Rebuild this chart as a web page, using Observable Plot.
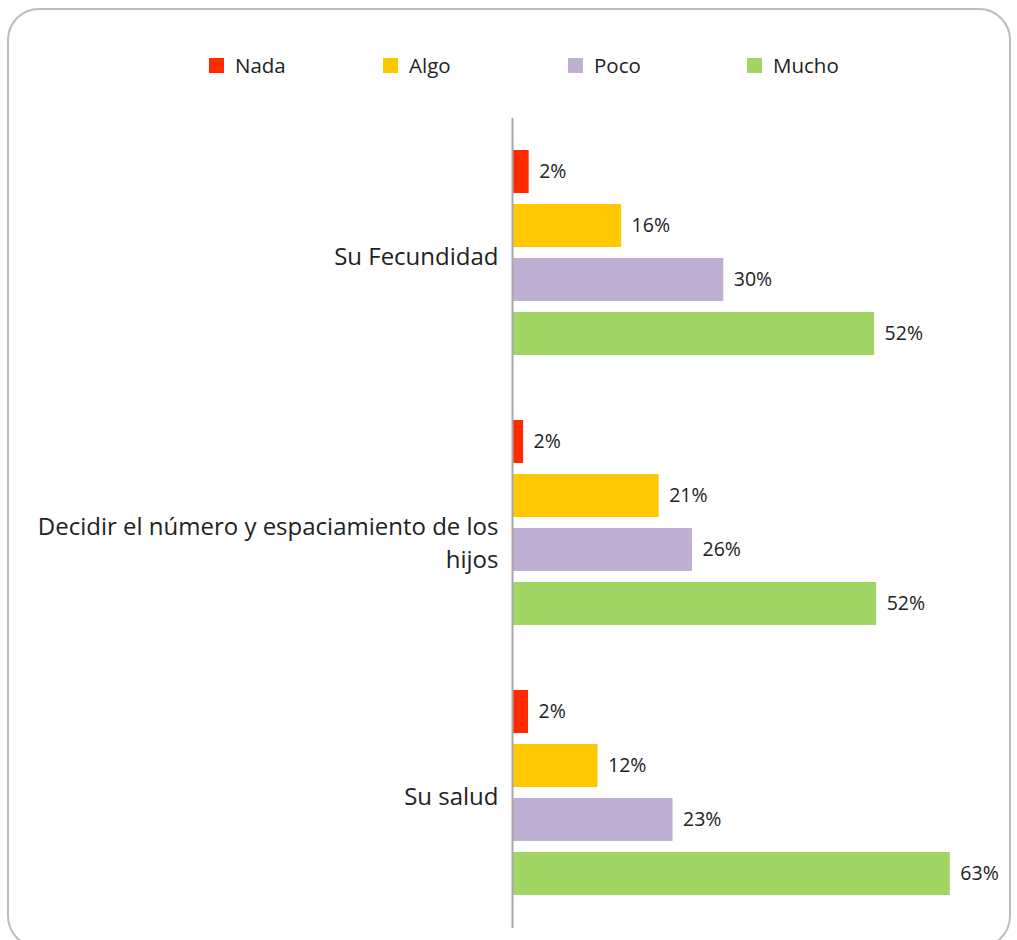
<!DOCTYPE html>
<html>
<head>
<meta charset="utf-8">
<script src="https://cdn.jsdelivr.net/npm/d3@7"></script>
<script src="https://cdn.jsdelivr.net/npm/@observablehq/plot@0.6"></script>
<style>
  html, body { margin: 0; padding: 0; background: #fff; }
  #page { position: relative; width: 1017px; height: 940px; overflow: hidden; }
  #box { position: absolute; left: 7px; top: 8px; width: 1004px; height: 940px;
         border: 2.5px solid #bcbcbe; border-radius: 32px; box-sizing: border-box; }
  #legend { position: absolute; top: 50px; left: 0; width: 1017px; height: 30px;
            font-family: "Open Sans", sans-serif; font-size: 20.5px; color: #222; }
  .item { position: absolute; top: 0; display: flex; align-items: center; height: 30px; }
  .sw { width: 15px; height: 15px; margin-right: 11px; }
  #chart { position: absolute; left: 0; top: 0; }
</style>
</head>
<body>
<div id="page">
  <div id="box"></div>
  <div id="legend"></div>
  <div id="chart"></div>
</div>
<script>
const groups = ["Su Fecundidad", "Decidir el número y espaciamiento de los hijos", "Su salud"];
const groupLabels = ["Su Fecundidad", "Decidir el número y espaciamiento de los\nhijos", "Su salud"];
const series = ["Nada", "Algo", "Poco", "Mucho"];
const colors = ["#ff2a00", "#ffc800", "#bfb0d3", "#a2d664"];
const nada  = [2.4, 1.6, 2.3];
const algo  = [15.7, 21.1, 12.3];
const poco  = [30.4, 25.9, 23.1];
const mucho = [52.1, 52.4, 63.0];
const legendX = [209, 383, 568, 747];

const seriesValues = [nada, algo, poco, mucho];
const data = [];
groups.forEach((g, gi) => series.forEach((s, si) => data.push({group: g, series: s, value: seriesValues[si][gi]})));

// legend
const leg = document.getElementById("legend");
series.forEach((s, i) => {
  const it = document.createElement("div");
  it.className = "item";
  it.style.left = legendX[i] + "px";
  it.innerHTML = `<div class="sw" style="background:${colors[i]}"></div><span>${s}</span>`;
  leg.appendChild(it);
});

const chart = Plot.plot({
  width: 1017,
  height: 940,
  marginTop: 118,
  marginBottom: 12,
  marginLeft: 512,
  marginRight: 18.5,
  style: {fontFamily: "'Open Sans', sans-serif", background: "transparent", overflow: "visible"},
  x: {domain: [0, 70], axis: null},
  y: {domain: series, paddingInner: 0.2, paddingOuter: 0.6, axis: null},
  fy: {domain: groups, padding: 0, axis: null},
  color: {domain: series, range: colors},
  marks: [
    Plot.barX(data, {x: "value", y: "series", fy: "group", fill: "series"}),
    Plot.ruleX([0], {stroke: "#a8a8a8", strokeWidth: 2}),
    Plot.text(data, {x: "value", y: "series", fy: "group", text: d => Math.round(d.value) + "%",
      dx: 10, textAnchor: "start", fontSize: 19.5, fill: "#222",
      style: {fontVariantNumeric: "oldstyle-nums"}}),
    Plot.text(groups, {fy: d => d, frameAnchor: "left", text: d => groupLabels[groups.indexOf(d)],
      dx: -14, textAnchor: "end", lineAnchor: "top", dy: -12, lineHeight: 1.37, fontSize: 24, fill: "#222"})
  ]
});
document.getElementById("chart").appendChild(chart);
</script>
</body>
</html>
